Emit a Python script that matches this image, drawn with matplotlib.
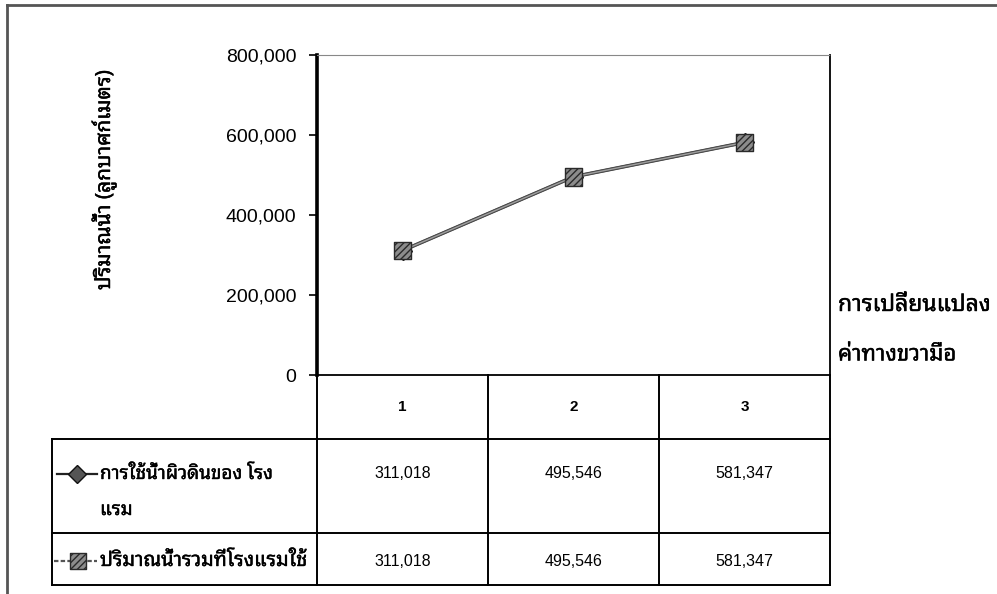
import matplotlib
matplotlib.use("Agg")
import matplotlib.pyplot as plt
import matplotlib.patheffects as pe
from matplotlib.lines import Line2D
from matplotlib.ticker import FuncFormatter

# ข้อมูลปริมาณน้ำ (ลูกบาศก์เมตร)
periods = ["1", "2", "3"]
surface_water = [311018, 495546, 581347]
total_water = [311018, 495546, 581347]
series_names = ["การใช้น้ำผิวดินของ โรง\nแรม", "ปริมาณน้ำรวมที่โรงแรมใช้"]
y_title = "ปริมาณน้ำ (ลูกบาศก์เมตร)"
side_note = ["การเปลี่ยนแปลง", "ค่าทางขวามือ"]
y_ticks = [0, 200000, 400000, 600000, 800000]

THAI = ["Noto Sans Thai Looped", "DejaVu Sans"]
NUM = ["Liberation Sans", "DejaVu Sans"]
# slightly heavier strokes for the Thai captions
heavy = [pe.withStroke(linewidth=0.3, foreground="black")]

W, H = 997, 594
fig = plt.figure(figsize=(W / 100, H / 100), dpi=100)

# whole-figure layer in pixel units for frame, table and notes
bg = fig.add_axes([0, 0, 1, 1])
bg.set_xlim(0, W)
bg.set_ylim(H, 0)
bg.axis("off")

# plot area
L, R, T, B = 317, 830, 55, 375
ax = fig.add_axes([L / W, 1 - B / H, (R - L) / W, (B - T) / H])
x = range(1, len(periods) + 1)
ax.plot(x, surface_water, color="#3a3a3a", lw=2.2, marker="D", ms=9,
        mfc="#555555", mec="#222222", zorder=2)
ax.plot(x, total_water, color="#4a4a4a", lw=2.6, zorder=3)
ax.plot(x, total_water, color="#a0a0a0", lw=1.0, zorder=3)
ax.scatter(x, total_water, marker="s", s=160, facecolor="#8c8c8c",
           edgecolor="#2a2a2a", hatch="/////", linewidth=1.0, zorder=4)
ax.set_xlim(0.5, len(periods) + 0.5)
ax.set_ylim(0, 800000)
ax.set_xticks([])
ax.set_yticks(y_ticks)
ax.yaxis.set_major_formatter(FuncFormatter(lambda v, p: f"{int(v):,}"))
ax.tick_params(axis="y", direction="out", length=6, width=1.2, pad=9,
               labelsize=14, colors="black")
for lab in ax.get_yticklabels():
    lab.set_family(NUM)
ax.spines["left"].set_linewidth(2.6)
ax.spines["bottom"].set_linewidth(1.3)
ax.spines["right"].set_linewidth(1.3)
ax.spines["top"].set_linewidth(0.8)
ax.spines["top"].set_linestyle((0, (1, 1)))
ax.spines["top"].set_color("#888888")
ax.patch.set_alpha(0)

# outer frame
bg.add_line(Line2D([7, 7], [5, H], color="#555555", lw=2))
bg.add_line(Line2D([7, W], [5, 5], color="#555555", lw=2))

# data table under the plot
cols = [317, 488, 659, 830]
rows = [375, 439, 533, 585]
lx = 52
for cx in cols:
    bg.add_line(Line2D([cx, cx], [rows[0], rows[-1]], color="black", lw=1.4))
bg.add_line(Line2D([lx, lx], [rows[1], rows[-1]], color="black", lw=1.4))
for ry in rows[1:]:
    bg.add_line(Line2D([lx, cols[-1]], [ry, ry], color="black", lw=1.4))

centers = [(cols[i] + cols[i + 1]) / 2 for i in range(len(periods))]
for cx, p in zip(centers, periods):
    bg.text(cx, 407, p, ha="center", va="center", family=NUM,
            fontsize=11, fontweight="bold")
row_y = [474, 561]
for cx, v1, v2 in zip(centers, surface_water, total_water):
    bg.text(cx, row_y[0], f"{v1:,}", ha="center", va="center", family=NUM, fontsize=11.5)
    bg.text(cx, row_y[1], f"{v2:,}", ha="center", va="center", family=NUM, fontsize=11.5)

# legend keys inside the table
bg.add_line(Line2D([57, 97], [row_y[0], row_y[0]], color="#222222", lw=1.6))
bg.add_line(Line2D([77], [row_y[0]], marker="D", ms=9, mfc="#555555",
                   mec="#111111", ls="none"))
bg.add_line(Line2D([54, 97], [row_y[1], row_y[1]], color="#555555", lw=1.6,
                   ls=(0, (2, 1))))
bg.scatter([78], [row_y[1]], marker="s", s=120, facecolor="#8c8c8c",
           edgecolor="#2a2a2a", hatch="/////", linewidth=1.0, zorder=4)

first, second = series_names[0].split("\n")
bg.text(100, row_y[0], first, ha="left", va="center", family=THAI,
        fontsize=13.6, path_effects=heavy)
bg.text(100, 510, second, ha="left", va="center", family=THAI,
        fontsize=13.6, path_effects=heavy)
bg.text(100, row_y[1], series_names[1], ha="left", va="center", family=THAI,
        fontsize=14.4, path_effects=heavy)

# axis title and right-hand note
bg.text(104, 180, y_title, ha="center", va="center", rotation=90,
        family=THAI, fontsize=15, path_effects=heavy)
bg.text(838, 305, side_note[0], ha="left", va="center", family=THAI,
        fontsize=16.5, path_effects=heavy)
bg.text(838, 355, side_note[1], ha="left", va="center", family=THAI,
        fontsize=16, path_effects=heavy)

fig.savefig("out.png", dpi=100)
